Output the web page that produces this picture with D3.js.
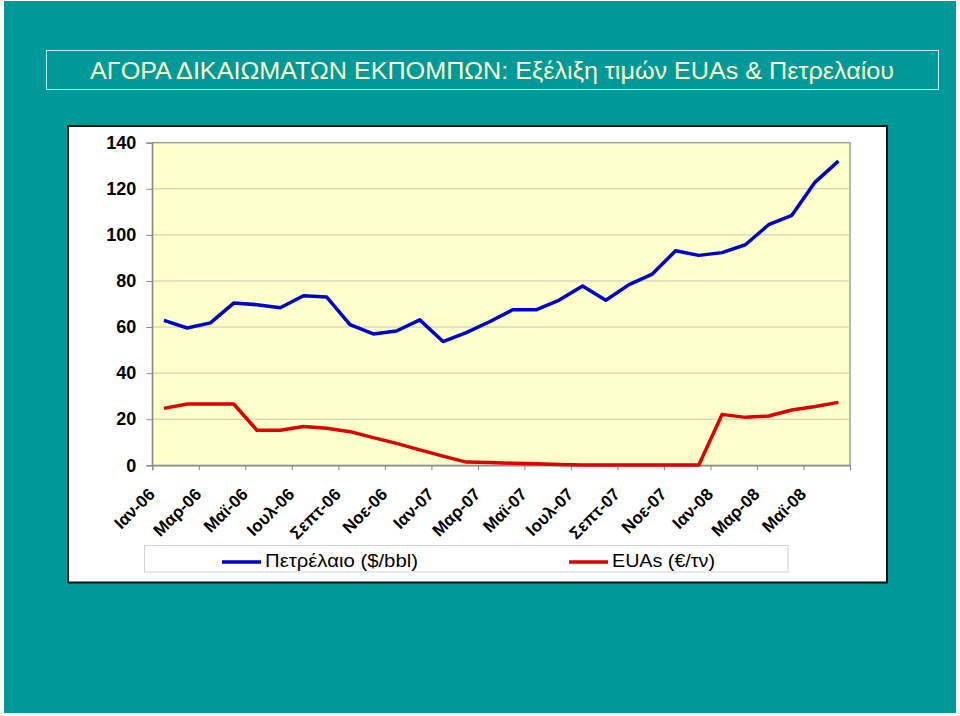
<!DOCTYPE html>
<html>
<head>
<meta charset="utf-8">
<script src="https://cdn.jsdelivr.net/npm/d3@7"></script>
<style>
  html, body { margin: 0; padding: 0; background: #ffffff; }
  svg { display: block; }
</style>
</head>
<body>
<svg id="chart" width="960" height="716"></svg>
<script>
// ---- Data ----
const categories = [
  "Ιαν-06","Φεβ-06","Μαρ-06","Απρ-06","Μαϊ-06","Ιουν-06","Ιουλ-06","Αυγ-06","Σεπ-06","Οκτ-06","Νοε-06","Δεκ-06",
  "Ιαν-07","Φεβ-07","Μαρ-07","Απρ-07","Μαϊ-07","Ιουν-07","Ιουλ-07","Αυγ-07","Σεπ-07","Οκτ-07","Νοε-07","Δεκ-07",
  "Ιαν-08","Φεβ-08","Μαρ-08","Απρ-08","Μαϊ-08","Ιουν-08"
];
const axisLabels = ["Ιαν-06","Μαρ-06","Μαϊ-06","Ιουλ-06","Σεπτ-06","Νοε-06","Ιαν-07","Μαρ-07","Μαϊ-07","Ιουλ-07","Σεπτ-07","Νοε-07","Ιαν-08","Μαρ-08","Μαϊ-08"];
const oilValues = [62.9, 59.6, 61.8, 70.4, 69.7, 68.4, 73.6, 73.0, 61.0, 57.0, 58.3, 63.1,
                   53.7, 57.6, 62.3, 67.5, 67.5, 71.7, 77.8, 71.6, 78.4, 83.0, 93.1, 91.1,
                   92.3, 95.7, 104.4, 108.5, 122.9, 132.0];
const euaValues = [24.7, 26.6, 26.6, 26.6, 15.2, 15.2, 16.8, 16.1, 14.6, 12.0, 9.5, 6.7,
                   4.0, 1.4, 1.2, 0.9, 0.7, 0.3, 0.1, 0.1, 0.1, 0.1, 0.1, 0.1,
                   22.1, 20.8, 21.4, 24.0, 25.5, 27.3];
const yTicks = [0, 20, 40, 60, 80, 100, 120, 140];
const seriesNames = ["Πετρέλαιο ($/bbl)", "EUAs (€/τν)"];
const title = "ΑΓΟΡΑ ΔΙΚΑΙΩΜΑΤΩΝ ΕΚΠΟΜΠΩΝ: Εξέλιξη τιμών EUAs & Πετρελαίου";

// ---- Layout ----
const svg = d3.select("#chart");
const font = "'Liberation Sans', Arial, sans-serif";
const plot = { left: 152.3, right: 850, top: 142.7, bottom: 465.3 };

// Background
svg.append("rect").attr("x", 4).attr("y", 1).attr("width", 952).attr("height", 712).attr("fill", "#009999");

// Title box
svg.append("rect").attr("x", 46.5).attr("y", 50.5).attr("width", 892).attr("height", 39)
  .attr("fill", "none").attr("stroke", "#bfeeee").attr("stroke-width", 1);
svg.append("text").attr("x", 492).attr("y", 78.5).attr("text-anchor", "middle")
  .attr("font-family", font).attr("font-size", 24).attr("fill", "#ffffcc")
  .attr("textLength", 804).attr("lengthAdjust", "spacingAndGlyphs")
  .text(title);

// Chart box
svg.append("rect").attr("x", 68).attr("y", 126).attr("width", 819).attr("height", 456.5)
  .attr("fill", "#ffffff").attr("stroke", "#111111").attr("stroke-width", 2);

// Scales
const x = d3.scaleBand().domain(categories).range([plot.left, plot.right]).padding(0);
const y = d3.scaleLinear().domain([0, 140]).range([plot.bottom, plot.top]);
const cx = d => x(d) + x.bandwidth() / 2;

// Plot background
svg.append("rect").attr("x", plot.left).attr("y", plot.top)
  .attr("width", plot.right - plot.left).attr("height", plot.bottom - plot.top)
  .attr("fill", "#ffffcc").attr("stroke", "#8a8a8a").attr("stroke-width", 1.2);

// Gridlines
svg.append("g").selectAll("line").data(yTicks.filter(t => t > 0 && t < 140)).join("line")
  .attr("x1", plot.left).attr("x2", plot.right)
  .attr("y1", d => y(d)).attr("y2", d => y(d))
  .attr("stroke", "#c8c8b4").attr("stroke-width", 1);

// Y axis
const yAxis = d3.axisLeft(y).tickValues(yTicks).tickSize(6).tickPadding(10);
const gy = svg.append("g").attr("transform", `translate(${plot.left},0)`).call(yAxis);
gy.select(".domain").attr("stroke", "#8a8a8a").attr("stroke-width", 1.2);
gy.selectAll(".tick line").attr("stroke", "#8a8a8a");
gy.selectAll(".tick text").attr("font-family", font).attr("font-size", 18)
  .attr("font-weight", "bold").attr("fill", "#000");

// X axis: ticks every 2 categories
const boundaryScale = d3.scaleLinear().domain([0, categories.length]).range([plot.left, plot.right]);
const tickIdx = d3.range(0, categories.length + 1, 2);
const xAxis = d3.axisBottom(boundaryScale).tickValues(tickIdx).tickSize(5).tickFormat("");
const gx = svg.append("g").attr("transform", `translate(0,${plot.bottom})`).call(xAxis);
gx.select(".domain").attr("stroke", "#8a8a8a").attr("stroke-width", 1.2);
gx.selectAll(".tick line").attr("stroke", "#8a8a8a");

// X labels
const labelCats = categories.filter((c, i) => i % 2 === 0);
svg.append("g").selectAll("text").data(labelCats).join("text")
  .attr("transform", (d) => `translate(${cx(d) - 8},${plot.bottom + 30}) rotate(-45)`)
  .attr("text-anchor", "end")
  .attr("font-family", font).attr("font-size", 17).attr("font-weight", "bold").attr("fill", "#000")
  .text((d, i) => axisLabels[i]);

// Lines
const line = d3.line().x((d, i) => cx(categories[i])).y(d => y(d));
svg.append("path").datum(euaValues).attr("d", line)
  .attr("fill", "none").attr("stroke", "#dd0000").attr("stroke-width", 3.5).attr("stroke-linejoin", "round");
svg.append("path").datum(oilValues).attr("d", line)
  .attr("fill", "none").attr("stroke", "#0000cc").attr("stroke-width", 3.5).attr("stroke-linejoin", "round");

// Legend
svg.append("rect").attr("x", 144.5).attr("y", 545.5).attr("width", 643.5).attr("height", 26.5)
  .attr("fill", "#ffffff").attr("stroke", "#d4d4d4").attr("stroke-width", 1);
const legendItems = [
  { name: seriesNames[0], color: "#0000cc", x1: 222, x2: 261, tx: 265, w: 153 },
  { name: seriesNames[1], color: "#dd0000", x1: 569, x2: 608, tx: 612, w: 103 }
];
const lg = svg.append("g").selectAll("g").data(legendItems).join("g");
lg.append("line").attr("x1", d => d.x1).attr("x2", d => d.x2).attr("y1", 562).attr("y2", 562)
  .attr("stroke", d => d.color).attr("stroke-width", 3.5);
lg.append("text").attr("x", d => d.tx).attr("y", 566.5)
  .attr("font-family", font).attr("font-size", 19).attr("fill", "#000")
  .attr("textLength", d => d.w).attr("lengthAdjust", "spacingAndGlyphs")
  .text(d => d.name);
</script>
</body>
</html>
